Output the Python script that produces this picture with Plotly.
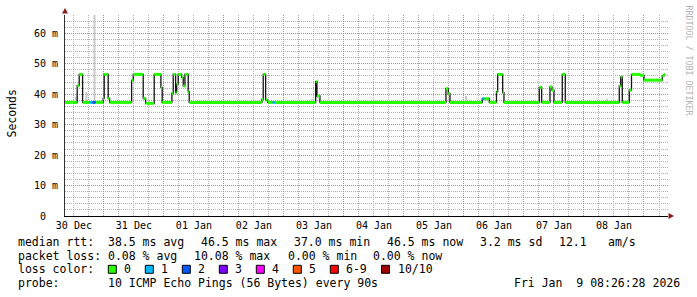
import pandas as pd
import plotly.graph_objects as go

# ---------------- data ----------------
origin = pd.Timestamp("2025-12-30 00:00:00")
start_hour = 8.441          # 30 Dec 08:26:28
end_hour = 248.441          # 09 Jan 08:26:28

# median rtt steps: start hour of each step (hours since 30 Dec 00:00), value in ms, lost pings
hours = [8.441, 13.32, 14.12, 15.48, 18.12, 19.48, 20.68, 23.72, 24.12, 25.72, 26.28,
         35.08, 35.72, 39.72, 40.68, 44.12, 46.8, 47.32,
         51.2, 51.72, 52.68, 53.08, 53.72, 55.08, 55.72, 56.4, 57.72, 58.12,
         87.2, 87.72, 88.68, 89.48, 91.48, 92.4,
         108.68, 109.2, 110.4,
         160.8, 161.72, 162.4,
         175.32, 176.12, 178.12,
         181.0, 181.48, 183.48, 184.0,
         198.12, 199.08,
         202.4, 203.2, 204.0,
         207.32, 208.52,
         230.12, 230.68, 231.32,
         234.12, 235.0, 238.4, 240.0, 247.32, 248.0]
median_ms = [37.3, 42.8, 46.5, 37.3, 37.3, 37.3, 37.3, 38.6, 46.5, 38.6, 37.3,
             44.6, 46.5, 38.6, 37.0, 46.5, 42.2, 37.3,
             40.3, 46.5, 40.5, 43.3, 46.5, 45.5, 42.7, 46.5, 40.8, 37.3,
             38.3, 46.5, 38.1, 37.3, 37.3, 37.3,
             44.1, 39.4, 37.3,
             41.8, 40.2, 37.3,
             38.5, 38.5, 37.3,
             40.8, 46.5, 40.5, 37.3,
             42.2, 37.3,
             42.4, 41.3, 37.3,
             46.5, 37.3,
             42.7, 45.7, 37.3,
             41.3, 46.5, 46.2, 44.6, 46.0, 46.5]
lost_pings = [0, 0, 0, 0, 1, 2, 0, 0, 0, 0, 0,
              0, 0, 0, 0, 0, 0, 0,
              0, 0, 0, 0, 0, 0, 0, 0, 0, 0,
              0, 0, 0, 0, 1, 0,
              0, 0, 0,
              0, 0, 0,
              1, 0, 0,
              0, 0, 0, 0,
              0, 0,
              0, 0, 0,
              0, 0,
              0, 0, 0,
              0, 0, 0, 0, 0, 0]

# smoke (ping spread) spikes
smoke_hours = [12.8, 17.0, 20.24, 107.1, 168.8, 225.1]
smoke_low = [37.3, 37.3, 37.3, 37.3, 37.3, 37.3]
smoke_high = [39.2, 40.7, 66.0, 38.4, 39.4, 38.5]

# legend / statistics
loss_labels = ["0", "1", "2", "3", "4", "5", "6-9", "10/10"]
loss_colors = ["#26ff00", "#00b8ff", "#0059ff", "#7e00ff", "#ff00ff", "#ff5500", "#ff0000", "#a00000"]
rtt_stats = ["38.5 ms avg", "46.5 ms max", "37.0 ms min", "46.5 ms now", "3.2 ms sd", "12.1", "am/s"]
loss_stats = ["0.08 % avg", "10.08 % max", "0.00 % min", "0.00 % now"]
probe_text = "10 ICMP Echo Pings (56 Bytes) every 90s"
stamp_text = "Fri Jan\u00a0\u00a09 08:26:28 2026"
y_ticks = [0, 10, 20, 30, 40, 50, 60]
y_labels = ["\u00a00\u00a0\u00a0", "10 m", "20 m", "30 m", "40 m", "50 m", "60 m"]

# ---------------- geometry ----------------
W, H = 697, 297
L, R, T, B = 65, 29, 15, 81
PW, PH = W - L - R, H - T - B
MONO = "DejaVu Sans Mono"


def px(x):
    return (x - L) / PW


def py(y):
    return (H - B - y) / PH


def ts(h):
    return origin + pd.Timedelta(hours=h)


# ---------------- traces ----------------
fig = go.Figure()

# smoke
sx, sy = [], []
for h, lo, hi in zip(smoke_hours, smoke_low, smoke_high):
    sx += [ts(h), ts(h), None]
    sy += [lo, hi, None]
fig.add_trace(go.Scatter(x=sx, y=sy, mode="lines", line=dict(color="#c8c8c8", width=2),
                         hoverinfo="skip", showlegend=False))

# median (black step line)
mx = [ts(h) for h in hours] + [ts(end_hour)]
my = median_ms + [median_ms[-1]]
fig.add_trace(go.Scatter(x=mx, y=my, mode="lines", line=dict(color="#141414", width=1.3, shape="hv"),
                         hoverinfo="skip", showlegend=False))

# loss-coloured median segments
ends = hours[1:] + [end_hour]
for k, col in enumerate(loss_colors):
    gx, gy = [], []
    for h0, h1, v, lp in zip(hours, ends, median_ms, lost_pings):
        if lp == k:
            gx += [ts(h0), ts(h1), None]
            gy += [v, v, None]
    if gx:
        fig.add_trace(go.Scatter(x=gx, y=gy, mode="lines", line=dict(color=col, width=3),
                                 hoverinfo="skip", showlegend=False))

# ---------------- axes ----------------
major_grid = "#ec7070"
minor_grid = "#b0b0b0"
# minor grid positions every 6 h / 2 ms, skipping the major ones
minor_x = [ts(h) for h in range(0, 252, 6) if h % 24 != 0]
minor_y = [v for v in range(0, 67, 2) if v % 10 != 0]
fig.update_xaxes(
    type="date",
    range=[ts(start_hour), ts(end_hour + 1.16)],
    tick0="2025-12-30", dtick=86400000,
    tickformat="%d %b", ticklabelmode="period",
    showgrid=True, gridcolor=major_grid, griddash="1px,1px", gridwidth=1,
    minor=dict(tickmode="array", tickvals=minor_x, showgrid=True,
               gridcolor=minor_grid, griddash="1px,1px", gridwidth=1),
    showline=True, linecolor="#000000", linewidth=1,
    ticks="", tickfont=dict(family=MONO, size=10, color="#000"),
    zeroline=False, fixedrange=True,
)
fig.update_yaxes(
    range=[0, 66],
    tickmode="array", tickvals=y_ticks, ticktext=y_labels,
    showgrid=True, gridcolor=major_grid, griddash="1px,1px", gridwidth=1,
    minor=dict(tickmode="array", tickvals=minor_y, showgrid=True,
               gridcolor=minor_grid, griddash="1px,1px", gridwidth=1),
    showline=True, linecolor="#333333", linewidth=1,
    ticks="", ticklabelstandoff=4,
    tickfont=dict(family=MONO, size=10, color="#000"),
    zeroline=False, fixedrange=True,
)

# ---------------- annotations ----------------
ann = []


def text(x, y, s, anchor="left", size=11.5, color="#000", angle=0):
    ann.append(dict(x=px(x), y=py(y), xref="paper", yref="paper", text=s, showarrow=False,
                    xanchor=anchor, yanchor="middle", textangle=angle,
                    font=dict(family=MONO, size=size, color=color), borderpad=0))


text(11, 113.5, "Seconds", anchor="center", angle=-90)
text(688.5, 60, "RRDTOOL / TOBI OETIKER", anchor="center", size=8.3, color="#b4b4b4", angle=90)

y1, y2, y3, y4 = 241.7, 255.7, 269.3, 283.3
text(16.5, y1, "median rtt:")
for s, x in zip(rtt_stats, [107.3, 200.3, 292.7, 386.0, 479.3, 558.3, 607.3]):
    text(x, y1, s)
text(16.5, y2, "packet loss:")
for s, x in zip(loss_stats, [107.3, 193.3, 286.7, 372.3]):
    text(x, y2, s)
text(16.5, y3, "loss color:")
sq_x = [108.3, 145.3, 182.3, 219.3, 256.3, 293.3, 330.3, 381.5]
shapes = []
for lab, col, x in zip(loss_labels, loss_colors, sq_x):
    shapes.append(dict(type="rect", xref="paper", yref="paper",
                       x0=px(x), x1=px(x + 8), y0=py(y3 + 4), y1=py(y3 - 4),
                       fillcolor=col, line=dict(color="#000", width=1)))
    text(x + 15, y3, lab)
text(16.5, y4, "probe:")
text(107.3, y4, probe_text)
text(680.5, y4, stamp_text, anchor="right")

# axis arrows
shapes.append(dict(type="path", xref="paper", yref="paper",
                   path=f"M {px(62)} {py(13.5)} L {px(68)} {py(13.5)} L {px(65)} {py(8)} Z",
                   fillcolor="#8b1a1a", line=dict(width=0)))
shapes.append(dict(type="path", xref="paper", yref="paper",
                   path=f"M {px(668.5)} {py(213)} L {px(668.5)} {py(219)} L {px(674)} {py(216)} Z",
                   fillcolor="#8b1a1a", line=dict(width=0)))

fig.update_layout(
    width=W, height=H, margin=dict(l=L, r=R, t=T, b=B, pad=0),
    paper_bgcolor="#ffffff", plot_bgcolor="#ffffff",
    showlegend=False, annotations=ann, shapes=shapes,
    font=dict(family=MONO),
)

fig.write_html("out.html", config={"displayModeBar": False})
